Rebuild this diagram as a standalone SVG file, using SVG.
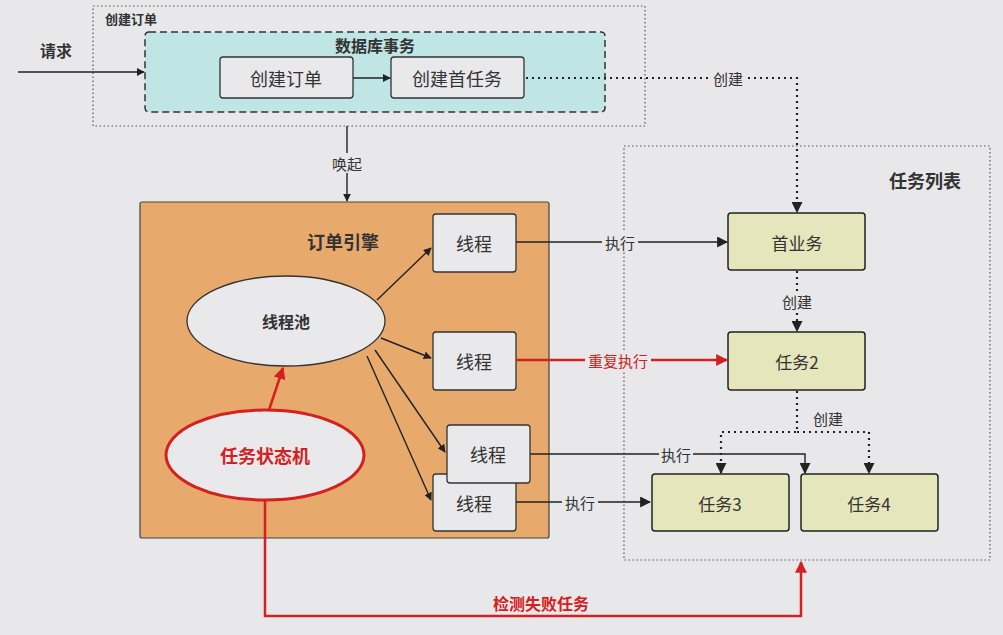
<svg xmlns="http://www.w3.org/2000/svg" width="1003" height="635" viewBox="0 0 1003 635">
<defs>
<marker id="ah" viewBox="0 0 10 10" refX="9" refY="5" markerWidth="8" markerHeight="8" markerUnits="userSpaceOnUse" orient="auto"><path d="M0,0 L10,5 L0,10 z" fill="#222"/></marker>
<marker id="ahl" viewBox="0 0 10 10" refX="9" refY="5" markerWidth="11" markerHeight="11" markerUnits="userSpaceOnUse" orient="auto"><path d="M0,0 L10,5 L0,10 z" fill="#222"/></marker>
<marker id="ahr" viewBox="0 0 10 10" refX="9" refY="5" markerWidth="12" markerHeight="12" markerUnits="userSpaceOnUse" orient="auto"><path d="M0,0 L10,5 L0,10 z" fill="#d42020"/></marker>
</defs>
<style>
text{font-family:"Noto Sans CJK SC","Noto Sans",sans-serif;fill:#333;text-anchor:middle;dominant-baseline:central}
.b{font-weight:bold}
.n{font-size:18px}
.l{font-size:15px}
.box{fill:#e9e9eb;stroke:#333;stroke-width:1.3}
.task{fill:#e6e6bd;stroke:#222;stroke-width:1.5}
.ln{fill:none;stroke:#222;stroke-width:1.4}
.dot{fill:none;stroke:#222;stroke-width:2.2;stroke-dasharray:2 4}
.red{fill:none;stroke:#d42020;stroke-width:2.5}
.lb{fill:#e8e8ea}
</style>
<rect width="1003" height="635" fill="#e8e8ea"/>

<g id="create-order-group">
<rect x="93" y="6" width="552" height="120" fill="none" stroke="#555" stroke-width="1.2" stroke-dasharray="1.5 2.5"/>
<text x="131" y="18" class="b" style="font-size:13px">创建订单</text>
</g>
<g id="db-transaction">
<rect x="145" y="32" width="460" height="80" rx="4" fill="#bfe5e4" stroke="#333" stroke-width="1.5" stroke-dasharray="7 4"/>
<text x="375" y="45" class="b" style="font-size:16px">数据库事务</text>
</g>
<g id="node-create-order">
<rect x="220" y="57" width="133" height="41" rx="3" class="box"/>
<text x="286" y="78" class="n">创建订单</text>
</g>
<g id="node-create-first-task">
<rect x="391" y="57" width="133" height="41" rx="3" class="box"/>
<text x="457" y="78" class="n">创建首任务</text>
</g>
<g id="label-request"><text x="56" y="50" class="b" style="font-size:16px">请求</text></g>

<g id="engine">
<rect x="140" y="202" width="409" height="336" rx="2" fill="#e8aa6c" stroke="#444" stroke-width="1.2"/>
<text x="343" y="241" class="b" style="font-size:18px">订单引擎</text>
</g>
<g id="node-pool">
<ellipse cx="286" cy="321" rx="99" ry="45" fill="#e9e9eb" stroke="#333" stroke-width="1.3"/>
<text x="286" y="321" class="b" style="font-size:16px">线程池</text>
</g>
<g id="node-fsm">
<ellipse cx="265" cy="455" rx="99" ry="45" fill="#e9e9eb" stroke="#d42020" stroke-width="3"/>
<text x="265" y="455" class="b" style="font-size:18px;fill:#d42020">任务状态机</text>
</g>
<g id="node-thread1"><rect x="433" y="214" width="83" height="58" rx="3" class="box"/><text x="474" y="243" class="n">线程</text></g>
<g id="node-thread2"><rect x="433" y="332" width="83" height="58" rx="3" class="box"/><text x="474" y="361" class="n">线程</text></g>
<g id="node-thread4"><rect x="433" y="474" width="83" height="57" rx="3" class="box"/><text x="474" y="503" class="n">线程</text></g>
<g id="node-thread3"><rect x="447" y="425" width="83" height="58" rx="3" class="box"/><text x="488" y="454" class="n">线程</text></g>

<g id="task-list">
<rect x="624" y="146" width="366" height="414" fill="none" stroke="#555" stroke-width="1.2" stroke-dasharray="1.5 2.5"/>
<text x="925" y="180" class="b" style="font-size:18px">任务列表</text>
</g>
<g id="node-first"><rect x="728" y="213" width="137" height="57" rx="3" class="task"/><text x="797" y="242" style="font-size:17px">首业务</text></g>
<g id="node-task2"><rect x="728" y="332" width="137" height="58" rx="3" class="task"/><text x="797" y="361" style="font-size:17px">任务2</text></g>
<g id="node-task3"><rect x="652" y="474" width="137" height="57" rx="3" class="task"/><text x="720" y="503" style="font-size:17px">任务3</text></g>
<g id="node-task4"><rect x="801" y="474" width="137" height="57" rx="3" class="task"/><text x="869" y="503" style="font-size:17px">任务4</text></g>

<g id="connectors">
<line x1="18" y1="72" x2="144" y2="72" class="ln" marker-end="url(#ah)"/>
<line x1="353" y1="78" x2="390" y2="78" class="ln" marker-end="url(#ah)"/>
<path d="M526,78 H797 V212" class="dot" marker-end="url(#ahl)"/>
<rect x="710" y="68" width="36" height="20" class="lb"/>
<text x="728" y="78" class="l">创建</text>
<line x1="347" y1="126" x2="347" y2="201" class="ln" marker-end="url(#ah)"/>
<rect x="328" y="153" width="38" height="20" class="lb"/>
<text x="347" y="163" class="l">唤起</text>

<line x1="377" y1="300" x2="431" y2="248" class="ln" marker-end="url(#ah)"/>
<line x1="381" y1="338" x2="431" y2="358" class="ln" marker-end="url(#ah)"/>
<line x1="375" y1="350" x2="445" y2="452" class="ln" marker-end="url(#ah)"/>
<line x1="367" y1="356" x2="431" y2="500" class="ln" marker-end="url(#ah)"/>
<line x1="269" y1="410" x2="283" y2="368" class="red" marker-end="url(#ahr)"/>

<line x1="516" y1="242" x2="727" y2="242" class="ln" marker-end="url(#ahl)"/>
<rect x="602" y="232" width="36" height="20" class="lb"/>
<text x="620" y="242" class="l">执行</text>
<line x1="516" y1="360" x2="727" y2="360" class="red" marker-end="url(#ahr)"/>
<rect x="585" y="350" width="66" height="20" class="lb"/>
<text x="618" y="360" class="l" style="fill:#d42020">重复执行</text>

<path d="M797,271 V331" class="dot" marker-end="url(#ahl)"/>
<rect x="779" y="291" width="36" height="20" class="lb"/>
<text x="797" y="301" class="l">创建</text>
<path d="M797,391 V432 H721 V473" class="dot" marker-end="url(#ahl)"/>
<path d="M797,432 H869 V473" class="dot" marker-end="url(#ahl)"/>
<text x="828" y="418" class="l">创建</text>

<path d="M530,454 H805 V473" class="ln" marker-end="url(#ahl)"/>
<rect x="659" y="444" width="34" height="20" class="lb"/>
<text x="676" y="454" class="l">执行</text>
<line x1="516" y1="502" x2="650" y2="502" class="ln" marker-end="url(#ahl)"/>
<rect x="562" y="492" width="36" height="20" class="lb"/>
<text x="580" y="502" class="l">执行</text>

<path d="M265,500 V616 H801 V562" class="red" marker-end="url(#ahr)"/>
<text x="541" y="603" class="b" style="font-size:16px;fill:#d42020">检测失败任务</text>
</g>
</svg>
